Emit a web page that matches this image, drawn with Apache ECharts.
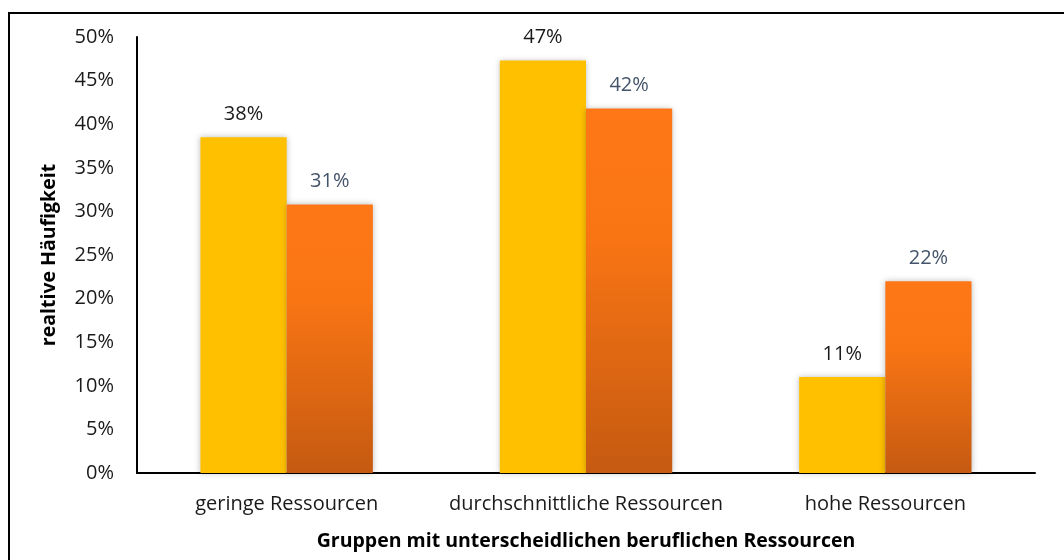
<!DOCTYPE html>
<html>
<head>
<meta charset="utf-8">
<script src="https://cdn.jsdelivr.net/npm/echarts@6/dist/echarts.min.js"></script>
<style>
html,body{margin:0;padding:0;background:#fff;}
#c{width:1064px;height:560px;}
</style>
</head>
<body>
<div id="c"></div>
<script>
const categories = ['geringe Ressourcen', 'durchschnittliche Ressourcen', 'hohe Ressourcen'];
const seriesA = [38.5, 47.3, 11.0];
const seriesB = [30.8, 41.8, 22.0];
const labelsA = ['38%', '47%', '11%'];
const labelsB = ['31%', '42%', '22%'];
const yTicks = [0, 5, 10, 15, 20, 25, 30, 35, 40, 45, 50];

const FONT = '"Open Sans", "Noto Sans", sans-serif';
const chart = echarts.init(document.getElementById('c'));
chart.setOption({
  animation: false,
  textStyle: { fontFamily: FONT },
  graphic: [{
    type: 'polyline',
    shape: { points: [[9, 560], [9, 13], [1064, 13]] },
    style: { stroke: '#000', lineWidth: 2, fill: null },
    silent: true
  }],
  grid: { left: 137, right: 29, top: 37, bottom: 87, containLabel: false },
  xAxis: {
    type: 'category',
    data: categories,
    axisLine: { lineStyle: { color: '#000', width: 2 } },
    axisTick: { show: false },
    axisLabel: { color: '#1a1a1a', fontSize: 20, margin: 21, interval: 0, fontFamily: FONT },
    name: 'Gruppen mit unterscheidlichen beruflichen Ressourcen',
    nameLocation: 'middle',
    nameGap: 58,
    nameTextStyle: { color: '#000', fontSize: 19.5, fontWeight: 'bold', fontFamily: FONT }
  },
  yAxis: {
    type: 'value',
    min: yTicks[0],
    max: yTicks[yTicks.length - 1],
    interval: 5,
    splitLine: { show: false },
    axisLine: { show: true, lineStyle: { color: '#000', width: 2 } },
    axisTick: { show: false },
    axisLabel: { color: '#1a1a1a', fontSize: 20, margin: 23, formatter: v => v + '%', fontFamily: FONT },
    name: 'realtive Häufigkeit',
    nameLocation: 'middle',
    nameGap: 78,
    nameTextStyle: { color: '#000', fontSize: 19.5, fontWeight: 'bold', fontFamily: FONT }
  },
  series: [
    {
      type: 'bar',
      data: seriesA,
      barWidth: '28.8%',
      barGap: '0%',
      itemStyle: { color: '#FFC000', shadowColor: 'rgba(0,0,0,0.25)', shadowBlur: 6, shadowOffsetX: 0, shadowOffsetY: 0 },
      label: {
        show: true, position: 'top', distance: 13, fontSize: 20, color: '#1a1a1a', fontFamily: FONT,
        formatter: p => labelsA[p.dataIndex]
      }
    },
    {
      type: 'bar',
      data: seriesB,
      barWidth: '28.8%',
      itemStyle: {
        color: new echarts.graphic.LinearGradient(0, 0, 0, 1, [
          { offset: 0, color: '#FF7716' },
          { offset: 0.35, color: '#F97514' },
          { offset: 1, color: '#C55A11' }
        ], false),
        shadowColor: 'rgba(0,0,0,0.25)', shadowBlur: 6, shadowOffsetX: 0, shadowOffsetY: 0
      },
      label: {
        show: true, position: 'top', distance: 13, fontSize: 20, color: '#44546A', fontFamily: FONT,
        formatter: p => labelsB[p.dataIndex]
      }
    }
  ]
});
</script>
</body>
</html>
